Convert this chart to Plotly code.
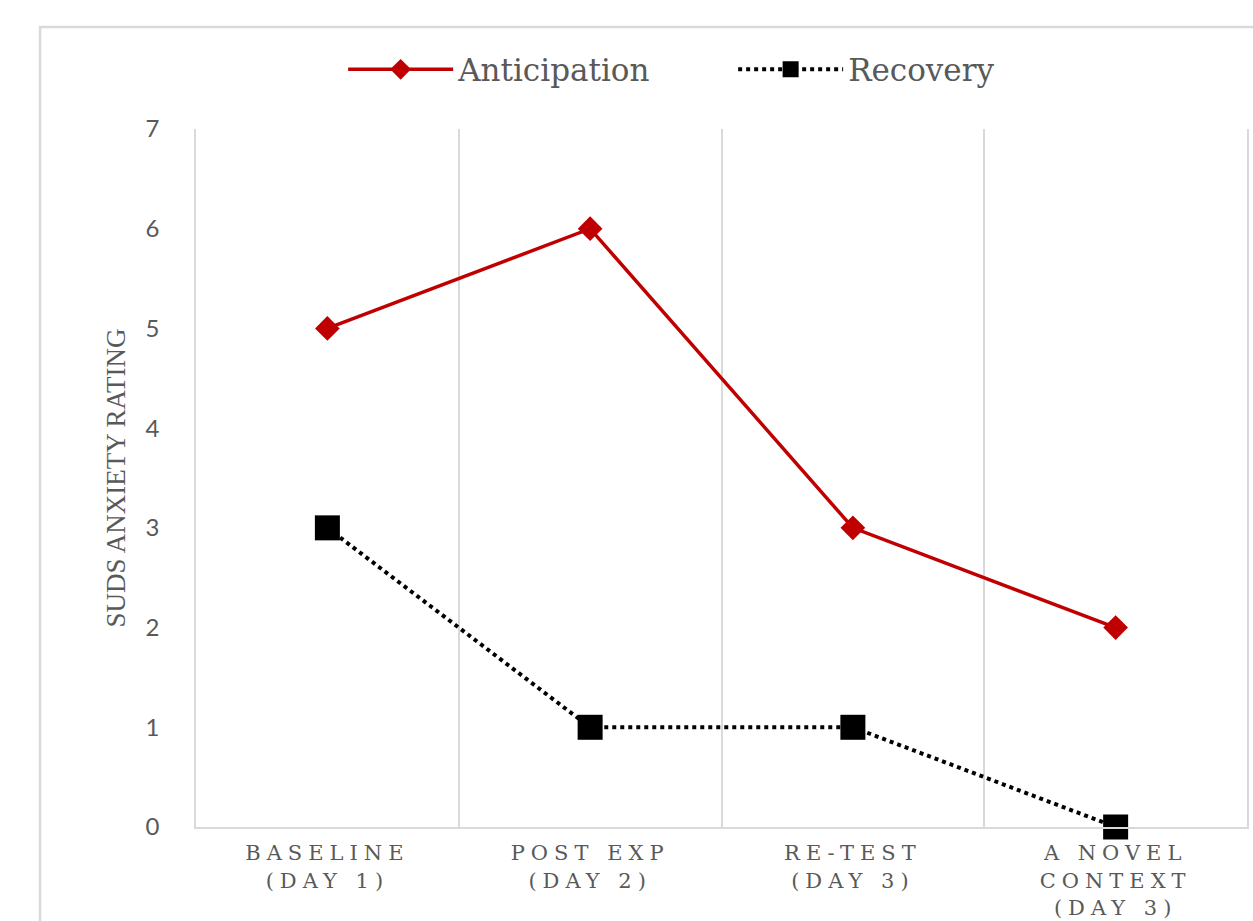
import plotly.graph_objects as go

categories = ["BASELINE<br>(DAY 1)", "POST EXP<br>(DAY 2)", "RE-TEST<br>(DAY 3)", "A NOVEL<br>CONTEXT<br>(DAY 3)"]
x_pos = [0, 1, 2, 3]
anticipation = [5, 6, 3, 2]
recovery = [3, 1, 1, 0]
y_ticks = [0, 1, 2, 3, 4, 5, 6, 7]

GRID = "#d9d9d9"
TXT = "#595959"

fig = go.Figure()
fig.add_trace(go.Scatter(
    x=x_pos, y=anticipation, name="Anticipation", mode="lines+markers",
    line=dict(color="#C00000", width=3.5),
    marker=dict(symbol="diamond", size=19, color="#C00000"),
    cliponaxis=False,
))
fig.add_trace(go.Scatter(
    x=x_pos, y=recovery, name="Recovery", mode="lines+markers",
    line=dict(color="#000000", width=4, dash="dot"),
    marker=dict(symbol="square", size=25, color="#000000"),
    cliponaxis=False,
))

fig.update_layout(
    width=1253, height=921,
    margin=dict(l=196, r=6, t=129, b=94, autoexpand=False),
    paper_bgcolor="white", plot_bgcolor="white",
    showlegend=True,
    legend=dict(orientation="h", x=0.14, xanchor="left", y=1.085, yanchor="middle",
                font=dict(family="DejaVu Serif", size=31, color=TXT),
                itemwidth=105, entrywidth=270, bgcolor="rgba(0,0,0,0)"),
    xaxis=dict(
        range=[-0.5, 3.5], tickmode="array", tickvals=x_pos, ticktext=categories,
        showgrid=False, zeroline=False, automargin=False,
        showline=True, linecolor=GRID, linewidth=2,
        ticks="outside", ticklen=6, tickcolor="rgba(0,0,0,0)",
        tickfont=dict(family="DejaVu Serif", size=21, color=TXT),
        minor=dict(tickvals=[0.5, 1.5, 2.5], showgrid=True, gridcolor=GRID, gridwidth=1.5, ticks=""),
    ),
    yaxis=dict(
        range=[0, 7], tickmode="array", tickvals=y_ticks,
        showgrid=False, zeroline=False, automargin=False,
        showline=True, linecolor=GRID, linewidth=1.5, mirror=True,
        ticks="outside", ticklen=30, tickcolor="rgba(0,0,0,0)",
        tickfont=dict(family="Lato", size=24, color=TXT),
        title=dict(text="SUDS ANXIETY RATING", standoff=12,
                   font=dict(family="Liberation Serif", size=27, color=TXT)),
    ),
    shapes=[dict(type="rect", xref="paper", yref="paper",
                 x0=-0.1484, x1=1.2, y0=-0.5, y1=1.146,
                 line=dict(color="#d9d9d9", width=2.5), fillcolor="rgba(0,0,0,0)", layer="below")],
)

post = """
document.querySelectorAll('.xtick text').forEach(function(t){ t.style.letterSpacing = '6px'; });
"""
fig.write_html("out.html", post_script=post)
